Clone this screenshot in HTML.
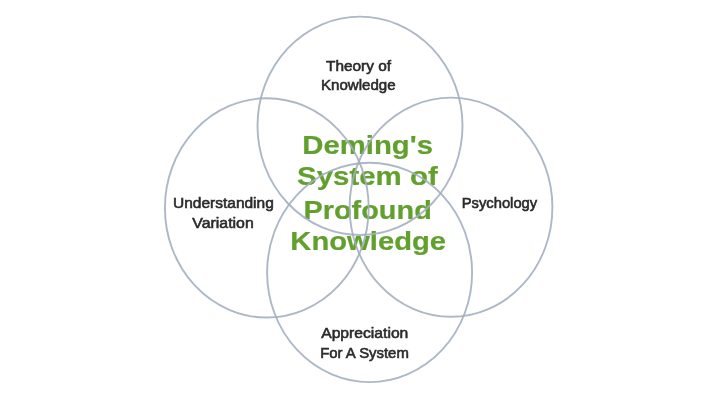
<!DOCTYPE html>
<html><head><meta charset="utf-8">
<style>
html,body{margin:0;padding:0;background:#fff;width:720px;height:404px;overflow:hidden}
svg{display:block}
.lab{font-family:"Liberation Sans",sans-serif;font-size:15.5px;fill:#2a2a2a;stroke:#2a2a2a;stroke-width:0.6;filter:url(#sb)}
.grn{font-family:"Liberation Sans",sans-serif;font-weight:bold;font-size:25.5px;fill:#62a02e;stroke:#62a02e;stroke-width:0.2;filter:url(#sb2)}
</style></head><body>
<svg width="720" height="404" viewBox="0 0 720 404">
<defs><filter id="bl" x="-5%" y="-5%" width="110%" height="110%"><feGaussianBlur stdDeviation="0.7"/></filter><filter id="halo" x="-10%" y="-20%" width="120%" height="140%"><feMorphology in="SourceAlpha" operator="dilate" radius="1.2" result="d"/><feGaussianBlur in="d" stdDeviation="1" result="b"/><feFlood flood-color="#f1f8e8" flood-opacity="0.8"/><feComposite in2="b" operator="in" result="h"/><feGaussianBlur in="SourceGraphic" stdDeviation="0.45" result="s"/><feMerge><feMergeNode in="h"/><feMergeNode in="s"/></feMerge></filter><filter id="sb2" x="-5%" y="-20%" width="110%" height="140%"><feGaussianBlur stdDeviation="0.45"/></filter><filter id="sb"><feGaussianBlur stdDeviation="0.4"/></filter></defs>
<rect width="720" height="404" fill="#fff"/>
<text class="lab" x="326.00" y="70.8" textLength="65.01" lengthAdjust="spacingAndGlyphs">Theory of</text>
<text class="lab" x="321.00" y="90.3" textLength="74.60" lengthAdjust="spacingAndGlyphs">Knowledge</text>
<text class="lab" x="173.00" y="207.5" textLength="100.80" lengthAdjust="spacingAndGlyphs">Understanding</text>
<text class="lab" x="192.28" y="227.5" textLength="61.46" lengthAdjust="spacingAndGlyphs">Variation</text>
<text class="lab" x="461.68" y="208.1" textLength="75.55" lengthAdjust="spacingAndGlyphs">Psychology</text>
<text class="lab" x="321.18" y="337.5" textLength="87.16" lengthAdjust="spacingAndGlyphs">Appreciation</text>
<text class="lab" x="320.20" y="357.5" textLength="88.64" lengthAdjust="spacingAndGlyphs">For A System</text>
<text class="grn" x="302.35" y="154.3" textLength="130.66" lengthAdjust="spacingAndGlyphs">Deming's</text>
<text class="grn" x="297.00" y="185.2" textLength="140.70" lengthAdjust="spacingAndGlyphs">System of</text>
<text class="grn" x="303.46" y="218.8" textLength="128.35" lengthAdjust="spacingAndGlyphs">Profound</text>
<text class="grn" x="290.36" y="250.1" textLength="155.68" lengthAdjust="spacingAndGlyphs">Knowledge</text>
<g fill="none" stroke="#a2aebf" stroke-width="1.9" stroke-opacity="0.88" filter="url(#bl)">
<ellipse cx="360" cy="125.8" rx="102.5" ry="109.2"/>
<ellipse cx="266.8" cy="207.9" rx="101.9" ry="109.6"/>
<ellipse cx="451.0" cy="207.2" rx="101.4" ry="109.6"/>
<ellipse cx="369.6" cy="272.4" rx="102.5" ry="109.7"/>
</g>
</svg>
</body></html>
